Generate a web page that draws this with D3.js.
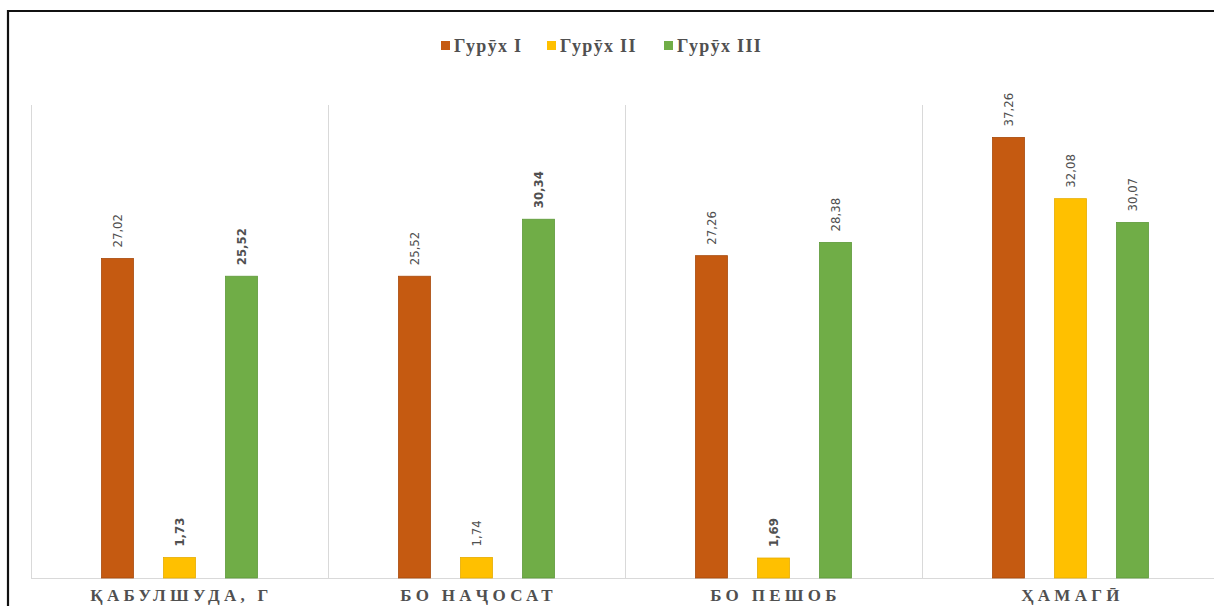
<!DOCTYPE html>
<html>
<head>
<meta charset="utf-8">
<script src="https://cdn.jsdelivr.net/npm/d3@7"></script>
<style>
  html, body { margin: 0; padding: 0; background: #fff; }
  svg { display: block; }
</style>
</head>
<body>
<svg id="chart" width="1214" height="606"></svg>
<script>
// Categories along the x axis
const categories = ["ҚАБУЛШУДА, Г", "БО НАҶОСАТ", "БО ПЕШОБ", "ҲАМАГӢ"];
// Series names
const seriesNames = ["Гурӯх I", "Гурӯх II", "Гурӯх III"];
// Values per series, in category order
const groupI   = [27.02, 25.52, 27.26, 37.26];
const groupII  = [1.73, 1.74, 1.69, 32.08];
const groupIII = [25.52, 30.34, 28.38, 30.07];
// Labels drawn in bold
const boldLabels = [[false, false, false, false], [true, false, true, false], [true, true, false, false]];
const seriesColors = ["#C55A11", "#FFC000", "#70AD47"];
const seriesStroke = ["#A84A0C", "#E6AC00", "#5E9A3A"];

const series = [groupI, groupII, groupIII];

const svg = d3.select("#chart");
const W = 1214, H = 606;

// frame
svg.append("line").attr("x1", 7).attr("x2", W).attr("y1", 11).attr("y2", 11)
  .attr("stroke", "#111").attr("stroke-width", 2.2);
svg.append("line").attr("x1", 8).attr("x2", 8).attr("y1", 10).attr("y2", H)
  .attr("stroke", "#111").attr("stroke-width", 2.2);

const plotLeft = 31, catStep = 297, plotTop = 105, plotBottom = 578;

const x0 = d3.scaleBand().domain(categories)
  .range([plotLeft, plotLeft + catStep * categories.length])
  .paddingInner(0).paddingOuter(0);
const x1 = d3.scaleBand().domain(seriesNames)
  .range([0, x0.bandwidth()])
  .paddingInner(0.484).paddingOuter(1.137);
const y = d3.scaleLinear().domain([0, 40]).range([plotBottom, plotTop]);

// vertical separators between categories
const seps = categories.map((c) => x0(c));
svg.append("g").selectAll("line").data(seps).join("line")
  .attr("x1", d => d + 0.5).attr("x2", d => d + 0.5)
  .attr("y1", plotTop).attr("y2", plotBottom)
  .attr("stroke", "#d9d9d9").attr("stroke-width", 1);

// baseline
svg.append("line").attr("x1", plotLeft).attr("x2", W)
  .attr("y1", plotBottom + 0.5).attr("y2", plotBottom + 0.5)
  .attr("stroke", "#d9d9d9").attr("stroke-width", 1.2);

// bars and value labels
const barData = [];
series.forEach((vals, si) => {
  vals.forEach((v, ci) => {
    barData.push({ cat: categories[ci], ser: seriesNames[si], v, si, ci });
  });
});

svg.append("g").selectAll("rect").data(barData).join("rect")
  .attr("x", d => x0(d.cat) + x1(d.ser))
  .attr("y", d => y(d.v))
  .attr("width", x1.bandwidth())
  .attr("height", d => y(0) - y(d.v))
  .attr("fill", d => seriesColors[d.si])
  .attr("stroke", d => seriesStroke[d.si])
  .attr("stroke-width", 0.8);

svg.append("g").selectAll("text").data(barData).join("text")
  .attr("transform", d => {
    const cx = x0(d.cat) + x1(d.ser) + x1.bandwidth() / 2;
    const cy = y(d.v) - 11;
    return `translate(${cx + 4.5},${cy}) rotate(-90)`;
  })
  .attr("text-anchor", "start")
  .attr("font-family", "'Liberation Sans Narrow', 'DejaVu Sans Condensed', 'Liberation Sans', sans-serif")
  .attr("font-size", 13)
  .attr("font-weight", d => boldLabels[d.si][d.ci] ? "bold" : "normal")
  .attr("fill", "#505050")
  .text(d => d3.format(".2f")(d.v).replace(".", ","));

// category labels
svg.append("g").selectAll("text").data(categories).join("text")
  .attr("x", d => x0(d) + x0.bandwidth() / 2 + 2)
  .attr("y", 601)
  .attr("text-anchor", "middle")
  .attr("font-family", "'Liberation Serif', 'DejaVu Serif', serif")
  .attr("font-weight", "bold")
  .attr("font-size", 17)
  .attr("letter-spacing", 4.3)
  .attr("fill", "#505050")
  .text(d => d);

// legend
const legendX = [441, 547, 664];
const legend = svg.append("g").selectAll("g").data(seriesNames).join("g")
  .attr("transform", (d, i) => `translate(${legendX[i]},46)`);
legend.append("rect").attr("x", 0).attr("y", -5).attr("width", 9).attr("height", 9)
  .attr("fill", (d, i) => seriesColors[i]);
legend.append("text").attr("x", 13).attr("y", 6)
  .attr("font-family", "'Liberation Serif', 'DejaVu Serif', serif")
  .attr("font-weight", "bold")
  .attr("font-size", 18)
  .attr("letter-spacing", 1.3)
  .attr("fill", "#505050")
  .text(d => d);
</script>
</body>
</html>
